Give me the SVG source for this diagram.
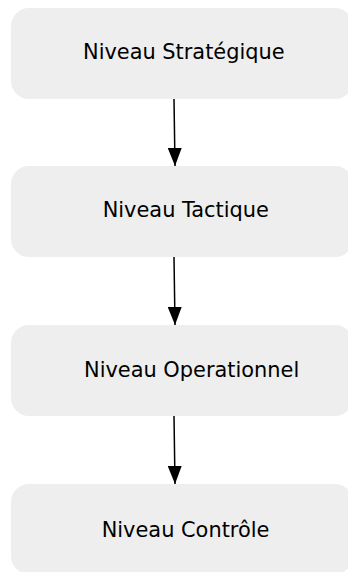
<svg xmlns="http://www.w3.org/2000/svg" width="348" height="572" viewBox="0 0 348 572">
<defs>
<style>
.node rect{fill:#eeeeee;stroke:none}
.node text{font-family:"DejaVu Sans",sans-serif;font-size:20.9px;fill:#000}
.edge{stroke:#000;stroke-width:1.5;fill:none}
</style>
<marker id="ah" viewBox="0 0 18 14" refX="18" refY="7" markerWidth="18" markerHeight="14" markerUnits="userSpaceOnUse" orient="auto">
<path d="M0,0 L18,7 L0,14 Z" fill="#000"/>
</marker>
</defs>
<rect width="348" height="572" fill="#ffffff"/>
<g id="n1" class="node"><rect x="11" y="8" width="342" height="91" rx="18"/><text x="83" y="59.3">Niveau Stratégique</text></g>
<g id="n2" class="node"><rect x="11" y="166" width="342" height="91" rx="18"/><text x="102.7" y="217.3">Niveau Tactique</text></g>
<g id="n3" class="node"><rect x="11" y="325" width="342" height="91" rx="18"/><text x="84" y="376.7">Niveau Operationnel</text></g>
<g id="n4" class="node"><rect x="11" y="484" width="342" height="90" rx="18"/><text x="101.7" y="536.7">Niveau Contrôle</text></g>
<g id="edges">
<line class="edge" x1="174" y1="99" x2="175" y2="166" marker-end="url(#ah)"/>
<line class="edge" x1="174" y1="257" x2="175" y2="325" marker-end="url(#ah)"/>
<line class="edge" x1="174" y1="416" x2="175" y2="484" marker-end="url(#ah)"/>
</g>
</svg>
